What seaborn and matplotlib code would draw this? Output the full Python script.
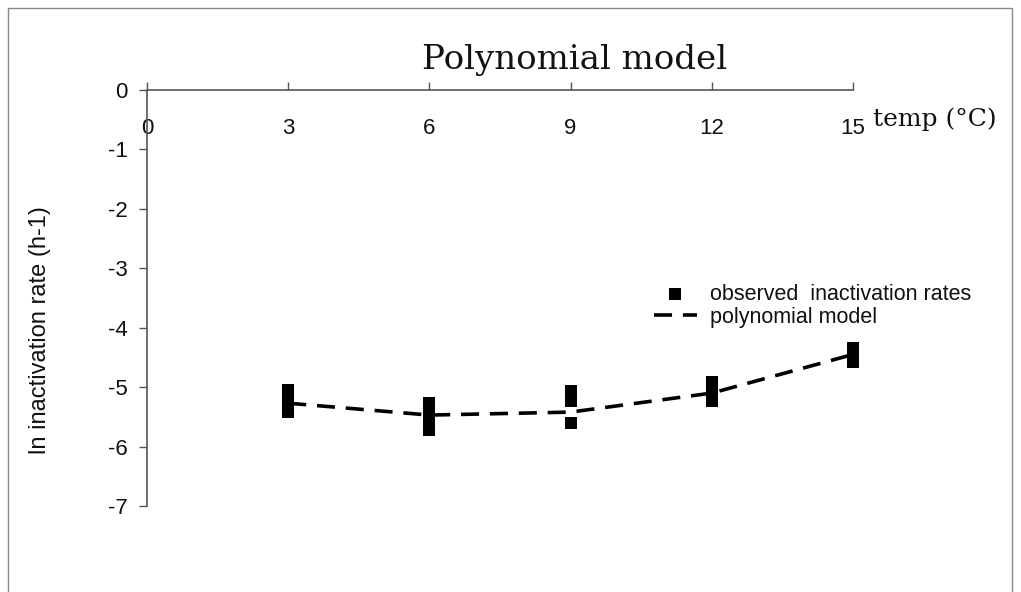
import numpy as np
import pandas as pd
import matplotlib
matplotlib.use("Agg")
import matplotlib.pyplot as plt
import matplotlib.patches as mpatches
import seaborn as sns

# observed ln inactivation rates per temperature
obs_temp = [3, 3, 3, 3, 3,
            6, 6, 6, 6, 6, 6,
            9, 9, 9,
            12, 12, 12, 12,
            15, 15, 15, 15]
obs_rate = [-5.05, -5.14, -5.23, -5.32, -5.41,
            -5.27, -5.36, -5.45, -5.54, -5.63, -5.72,
            -5.06, -5.23, -5.61,
            -4.91, -5.00, -5.08, -5.24,
            -4.34, -4.42, -4.50, -4.57]

# polynomial model curve
model_temp = [3, 6, 9, 12, 15]
model_rate = [-5.27, -5.47, -5.42, -5.10, -4.45]

x_ticks = [0, 3, 6, 9, 12, 15]
y_ticks = [0, -1, -2, -3, -4, -5, -6, -7]

obs = pd.DataFrame({"temp": obs_temp, "rate": obs_rate})
model = pd.DataFrame({"temp": model_temp, "rate": model_rate})

sns.set_theme(style="white")
plt.rcParams["font.family"] = ["Liberation Sans", "DejaVu Sans"]
plt.rcParams["axes.unicode_minus"] = False
plt.rcParams["text.color"] = "#111111"
plt.rcParams["xtick.labelcolor"] = "#111111"
plt.rcParams["ytick.labelcolor"] = "#111111"

fig = plt.figure(figsize=(10.21, 5.92), dpi=100)
ax = fig.add_axes([147 / 1021, 1 - 506 / 592, 706 / 1021, 416 / 592])

sns.scatterplot(data=obs, x="temp", y="rate", marker="s", s=72, color="black",
                linewidth=0, ax=ax, label="observed  inactivation rates", zorder=3)
sns.lineplot(data=model, x="temp", y="rate", color="black", linewidth=2.6,
             ax=ax, label="polynomial model", zorder=2)
ax.lines[0].set_dashes([5, 3])
for c in ax.collections:
    c.set_clip_on(False)

ax.set_xlim(0, 15)
ax.set_ylim(-7, 0)
ax.set_xticks(x_ticks)
ax.set_yticks(y_ticks)
ax.set_xlabel("")
ax.set_ylabel("")

for s in ["right", "bottom"]:
    ax.spines[s].set_visible(False)
for s in ["top", "left"]:
    ax.spines[s].set_color("#555555")
    ax.spines[s].set_linewidth(1.2)

ax.tick_params(axis="x", top=True, bottom=False, labeltop=True, labelbottom=False,
               direction="out", length=6, width=1, color="#555555",
               labelsize=16, pad=-26)
ax.tick_params(axis="y", left=True, direction="out", length=6, width=1,
               color="#555555", labelsize=16, pad=8)
for lbl in ax.get_xticklabels():
    lbl.set_verticalalignment("top")

fig.text(935 / 1021, 1 - 119 / 592, "temp (\u00b0C)", family="DejaVu Serif",
         fontsize=18, ha="center", va="center")
fig.text(575 / 1021, 1 - 60 / 592, "Polynomial model", family="DejaVu Serif",
         fontsize=24.5, ha="center", va="center")
fig.text(40 / 1021, 1 - 330 / 592, "ln inactivation rate (h-1)", fontsize=17,
         rotation=90, ha="center", va="center")

ax.legend(loc="upper left", bbox_to_anchor=(643 / 1021, 1 - 273 / 592),
          bbox_transform=fig.transFigure, frameon=False, fontsize=15.5,
          handlelength=2.0, handletextpad=0.6, labelspacing=0.1, borderpad=0)

fig.patches.append(mpatches.Rectangle((8 / 1021, -0.05), 1004 / 1021, 1.05 - 8 / 592,
                                      transform=fig.transFigure, fill=False,
                                      edgecolor="#888888", linewidth=1))

fig.savefig("out.png", dpi=100)
